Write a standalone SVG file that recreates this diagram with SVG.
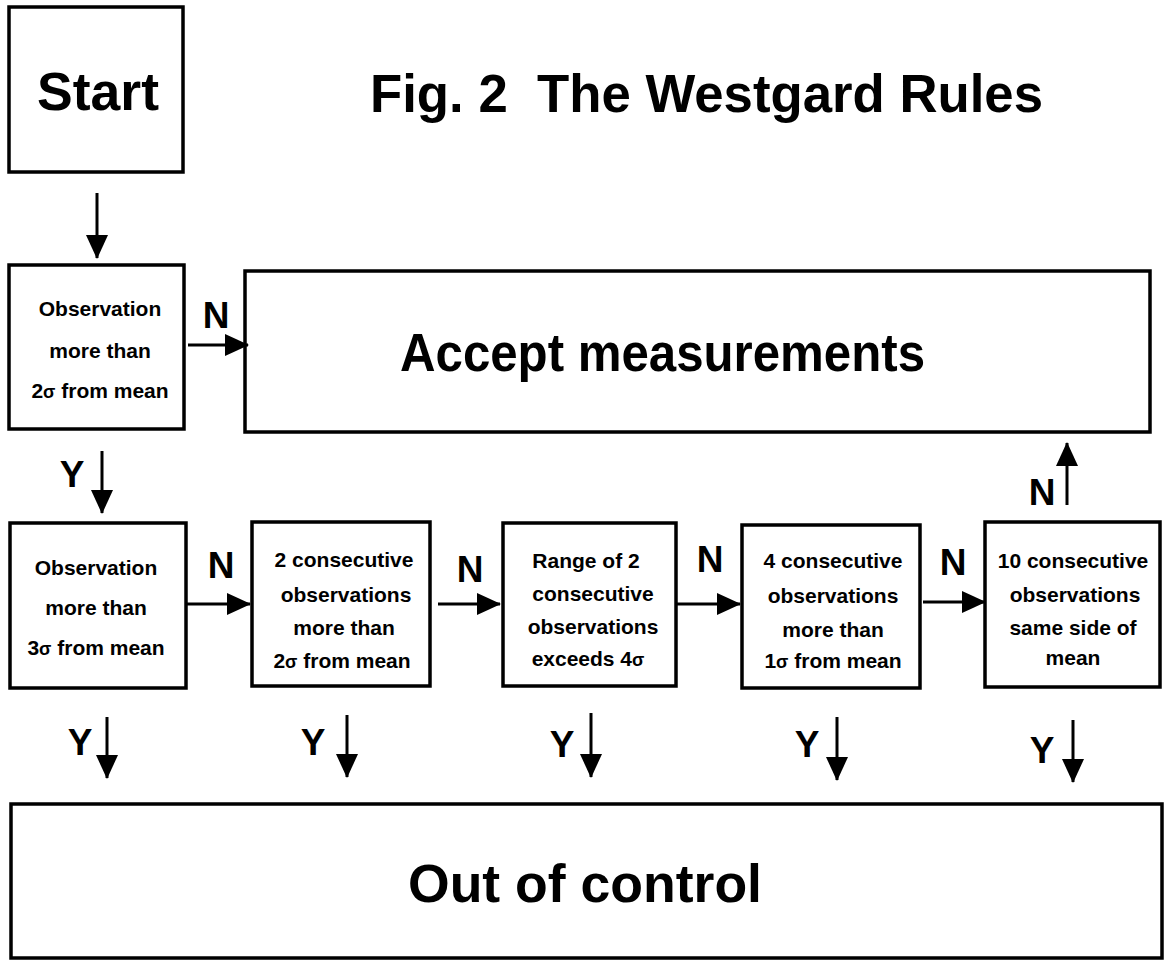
<svg xmlns="http://www.w3.org/2000/svg" width="1166" height="965" viewBox="0 0 1166 965">
<style>
.box{fill:#fff;stroke:#000;stroke-width:3.5}
.big{font-family:"Liberation Sans",Arial,sans-serif;font-weight:bold;font-size:53px;fill:#000}
.sm{font-family:"Liberation Sans",Arial,sans-serif;font-weight:bold;font-size:21px;fill:#000;text-anchor:middle}
.lbl{font-family:"Liberation Sans",Arial,sans-serif;font-weight:bold;font-size:37px;fill:#000;text-anchor:middle}
.ln{stroke:#000;stroke-width:3;fill:none;marker-end:url(#ah)}
.sig{font-size:18px}
</style>
<defs>
<marker id="ah" markerUnits="userSpaceOnUse" markerWidth="24" markerHeight="22" refX="23" refY="11" orient="auto">
<path d="M0,0 L24,11 L0,22 Z" fill="#000"/>
</marker>
</defs>
<rect width="1166" height="965" fill="#fff"/>
<text class="big" x="370" y="112" textLength="673" lengthAdjust="spacingAndGlyphs" xml:space="preserve">Fig. 2  The Westgard Rules</text>
<g id="start">
<rect class="box" x="9" y="7" width="174" height="165"/>
<text class="big" x="37" y="110" textLength="122" lengthAdjust="spacingAndGlyphs">Start</text>
</g>
<g id="obs2sd">
<rect class="box" x="9" y="265" width="175" height="164"/>
<text class="sm" x="100" y="316">Observation</text>
<text class="sm" x="100" y="358">more than</text>
<text class="sm" x="100" y="398">2<tspan class="sig">σ</tspan> from mean</text>
</g>
<g id="accept">
<rect class="box" x="245" y="271" width="905" height="161"/>
<text class="big" x="400" y="371" textLength="525" lengthAdjust="spacingAndGlyphs">Accept measurements</text>
</g>
<g id="obs3sd">
<rect class="box" x="10" y="523" width="176" height="165"/>
<text class="sm" x="96" y="575">Observation</text>
<text class="sm" x="96" y="615">more than</text>
<text class="sm" x="96" y="655">3<tspan class="sig">σ</tspan> from mean</text>
</g>
<g id="cons2sd">
<rect class="box" x="252" y="522" width="178" height="164"/>
<text class="sm" x="344" y="567">2 consecutive</text>
<text class="sm" x="346" y="602">observations</text>
<text class="sm" x="344" y="635">more than</text>
<text class="sm" x="342" y="668">2<tspan class="sig">σ</tspan> from mean</text>
</g>
<g id="range">
<rect class="box" x="503" y="523" width="173" height="163"/>
<text class="sm" x="586" y="568">Range of 2</text>
<text class="sm" x="593" y="601">consecutive</text>
<text class="sm" x="593" y="634">observations</text>
<text class="sm" x="588" y="666">exceeds 4<tspan class="sig">σ</tspan></text>
</g>
<g id="cons1sd">
<rect class="box" x="742" y="525" width="178" height="163"/>
<text class="sm" x="833" y="568">4 consecutive</text>
<text class="sm" x="833" y="603">observations</text>
<text class="sm" x="833" y="637">more than</text>
<text class="sm" x="833" y="668">1<tspan class="sig">σ</tspan> from mean</text>
</g>
<g id="cons10">
<rect class="box" x="985" y="522" width="175" height="165"/>
<text class="sm" x="1073" y="568">10 consecutive</text>
<text class="sm" x="1075" y="602">observations</text>
<text class="sm" x="1073" y="635">same side of</text>
<text class="sm" x="1073" y="665">mean</text>
</g>
<g id="outofcontrol">
<rect class="box" x="11" y="804" width="1151" height="154"/>
<text class="big" x="408" y="902" textLength="354" lengthAdjust="spacingAndGlyphs">Out of control</text>
</g>
<g id="connectors">
<line class="ln" x1="97" y1="193" x2="97" y2="258"/>
<line class="ln" x1="188" y1="345" x2="248" y2="345"/>
<text class="lbl" x="216" y="328">N</text>
<line class="ln" x1="102" y1="451" x2="102" y2="513"/>
<text class="lbl" x="72" y="487">Y</text>
<line class="ln" x1="187" y1="604" x2="250" y2="604"/>
<text class="lbl" x="221" y="578">N</text>
<line class="ln" x1="438" y1="604" x2="500" y2="604"/>
<text class="lbl" x="470" y="582">N</text>
<line class="ln" x1="677" y1="604" x2="740" y2="604"/>
<text class="lbl" x="710" y="572">N</text>
<line class="ln" x1="923" y1="602" x2="985" y2="602"/>
<text class="lbl" x="953" y="575">N</text>
<line class="ln" x1="1067" y1="505" x2="1067" y2="443"/>
<text class="lbl" x="1042" y="505">N</text>
<line class="ln" x1="107" y1="717" x2="107" y2="778"/>
<text class="lbl" x="80" y="755">Y</text>
<line class="ln" x1="347" y1="715" x2="347" y2="777"/>
<text class="lbl" x="313" y="755">Y</text>
<line class="ln" x1="591" y1="713" x2="591" y2="777"/>
<text class="lbl" x="562" y="757">Y</text>
<line class="ln" x1="837" y1="717" x2="837" y2="780"/>
<text class="lbl" x="807" y="757">Y</text>
<line class="ln" x1="1073" y1="720" x2="1073" y2="782"/>
<text class="lbl" x="1042" y="763">Y</text>
</g>
</svg>
